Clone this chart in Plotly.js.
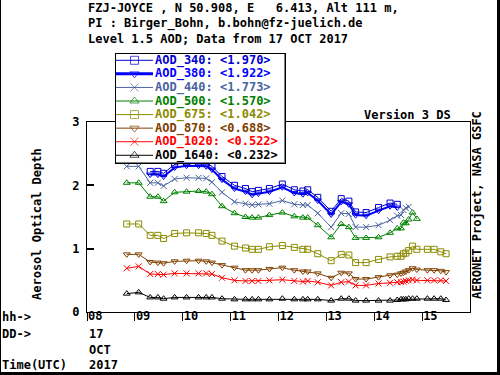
<!DOCTYPE html>
<html><head><meta charset="utf-8">
<script src="https://cdn.plot.ly/plotly-3.0.1.min.js"></script>
<style>html,body{margin:0;padding:0;background:#fff}#chart{width:500px;height:375px}</style>
</head><body><div id="chart"></div>
<script>
// ---- data ----
const hours = [8.83,9.08,9.32,9.48,9.60,9.83,10.08,10.33,10.49,10.61,
  10.82,11.08,11.31,11.45,11.58,11.81,12.08,12.33,12.51,12.61,
  12.82,13.10,13.31,13.47,13.61,13.83,14.09,14.33,14.48,14.56,
  14.61,14.66,14.72,14.80,14.89,15.11,15.25,15.39,15.50];
const aod340 = [null,null,2.22,2.22,2.19,2.33,2.36,2.36,2.35,2.30,
  2.14,2.00,1.95,1.90,1.92,1.95,2.02,1.93,1.91,1.93,
  1.81,1.59,1.79,1.75,1.58,1.57,1.65,1.72,1.70,null,
  null,null,null,null,null,null,null,null,null];
const aod380 = [null,null,2.17,2.17,2.14,2.28,2.31,2.31,2.30,2.25,
  2.09,1.95,1.90,1.85,1.87,1.90,1.97,1.88,1.86,1.88,
  1.76,1.54,1.74,1.70,1.53,1.52,1.60,1.67,1.65,null,
  null,null,null,null,null,null,null,null,null];
const aod440 = [2.30,2.30,2.04,2.04,1.99,2.10,2.12,2.12,2.11,2.05,
  1.89,1.74,1.71,1.69,1.70,1.71,1.76,1.70,1.69,1.69,
  1.56,1.34,1.56,1.55,1.34,1.34,1.37,1.45,1.52,1.53,
  1.61,1.64,1.66,null,null,null,null,null,null];
const aod500 = [2.04,2.04,1.82,1.82,1.75,1.89,1.90,1.91,1.90,1.86,
  1.67,1.56,1.50,1.49,1.49,1.53,1.57,1.51,1.49,1.49,
  1.37,1.18,1.39,1.34,1.17,1.17,1.18,1.25,1.32,1.32,
  1.41,1.40,1.46,1.57,1.47,null,null,null,null];
const aod675 = [1.39,1.39,1.21,1.21,1.16,1.24,1.25,1.25,1.24,1.21,
  1.12,1.04,1.01,0.99,0.99,1.03,1.05,1.02,0.99,0.99,
  0.92,0.81,0.91,0.90,0.78,0.78,0.83,0.87,0.88,0.88,
  0.92,0.93,0.97,1.04,0.99,0.99,0.99,0.95,0.92];
const aod870 = [0.91,0.91,0.79,0.78,0.77,0.80,0.81,0.81,0.80,0.78,
  0.74,0.70,0.66,0.66,0.66,0.68,0.70,0.66,0.64,0.64,
  0.61,0.54,0.62,0.61,0.52,0.52,0.55,0.58,0.59,0.61,
  0.62,0.64,0.66,0.69,0.67,0.66,0.66,0.65,0.63];
const aod1020 = [0.69,0.72,0.60,0.60,0.59,0.61,0.61,0.61,0.61,0.60,
  0.54,0.50,0.49,0.49,0.49,0.50,0.51,0.49,0.48,0.49,
  0.47,0.42,0.47,0.48,0.42,0.42,0.45,0.46,0.47,0.47,
  0.48,0.49,0.50,0.51,0.50,0.50,0.50,0.50,0.49];
const aod1640 = [0.29,0.31,0.23,0.23,0.21,0.23,0.23,0.23,0.23,0.23,
  0.21,0.20,0.20,0.20,0.20,0.20,0.21,0.20,0.20,0.20,
  0.20,0.18,0.21,0.21,0.18,0.18,0.18,0.18,0.19,0.20,
  0.20,0.20,0.21,0.21,0.21,0.21,0.21,0.21,0.19];
const seriesNames = ['AOD_340','AOD_380','AOD_440','AOD_500','AOD_675','AOD_870','AOD_1020','AOD_1640'];
const seriesMeans = ['1.970','1.922','1.773','1.570','1.042','0.688','0.522','0.232'];
const xTickVals = [8,9,10,11,12,13,14,15];
const xTickText = ['08','09','10','11','12','13','14','15'];
const yTickVals = [0,1,2,3];
const yTickText = ['0','1','2','3'];

// ---- styles ----
const seriesData = [aod340,aod380,aod440,aod500,aod675,aod870,aod1020,aod1640];
const colors = ['#0000d0','#0000ff','#4a64a0','#008000','#8c8c00','#804000','#ff0000','#000000'];
const symbols = ['square-open','triangle-down-open','x-thin-open','triangle-up-open','square-open','triangle-down-open','x-thin-open','triangle-up-open'];
const lineW = [1,2,1,1,1,1,1,1];
const FONT = 'DejaVu Sans Mono, monospace';
const W = 500, H = 375;
const px = x => x / W;
const py = y => 1 - y / H;

const traces = [];
for (let i = seriesData.length - 1; i >= 0; i--) {
  traces.push({
    x: hours, y: seriesData[i], type: 'scatter', mode: 'lines+markers',
    line: {color: colors[i], width: lineW[i]},
    marker: {symbol: symbols[i], size: 6, color: colors[i], line: {color: colors[i], width: 1}},
    xaxis: 'x', yaxis: 'y', showlegend: false, hoverinfo: 'skip'
  });
}
// legend samples drawn in a small subplot (pixel-like units)
const LEG = {left: 116, right: 284.5, top: 54, bottom: 162.5, row0: 6.3, rowH: 13.57, textX: 153.3};
seriesNames.forEach((n, i) => {
  const yy = LEG.row0 + LEG.rowH * i;
  traces.push({
    x: [0, 18.5, 37], y: [yy, yy, yy], type: 'scatter', mode: 'lines+markers',
    line: {color: colors[i], width: i === 1 ? 3 : 1},
    marker: {symbol: symbols[i], size: [0, 8, 0], color: colors[i], line: {color: colors[i], width: 1}},
    xaxis: 'x2', yaxis: 'y2', showlegend: false, hoverinfo: 'skip', cliponaxis: false
  });
});

const ann = [];
const txt = (text, x, y, opts) => Object.assign({
  text, x: px(x), y: py(y), xref: 'paper', yref: 'paper', showarrow: false,
  xanchor: 'left', yanchor: 'middle',
  font: {family: FONT, size: 12, color: '#000', weight: 700}
}, opts || {});
ann.push(txt('FZJ-JOYCE , N 50.908, E \u00a0\u00a06.413, Alt 111 m,', 86, 7.5));
ann.push(txt('PI : Birger_Bohn, b.bohn@fz-juelich.de', 86, 23));
ann.push(txt('Level 1.5 AOD; Data from 17 OCT 2017', 86, 38.5));
ann.push(txt('Version 3 DS', 453, 115, {xanchor: 'right'}));
ann.push(txt('AERONET Project, NASA GSFC', 477, 205, {xanchor: 'center', textangle: -90}));
ann.push(txt('Aerosol Optical Depth', 37, 224, {xanchor: 'center', textangle: -90}));
ann.push(txt('hh->', 0, 317));
ann.push(txt('DD->', 0, 333.5));
ann.push(txt('Time(UTC)', 0, 365));
ann.push(txt('17', 87, 333.5));
ann.push(txt('OCT', 87, 350));
ann.push(txt('2017', 87, 365));
seriesNames.forEach((n, i) => {
  ann.push(txt(n + ': &lt;' + seriesMeans[i] + '&gt;', LEG.textX, LEG.top + LEG.row0 + LEG.rowH * i,
    {font: {family: FONT, size: 12, color: colors[i], weight: 700}}));
});

const layout = {
  width: W, height: H, margin: {l: 0, r: 0, t: 0, b: 0},
  paper_bgcolor: '#fff', plot_bgcolor: '#fff',
  font: {family: FONT, size: 12, color: '#000', weight: 700},
  showlegend: false,
  xaxis: {
    domain: [px(87), px(470)], range: [8, 16], anchor: 'y',
    tickvals: xTickVals, ticktext: xTickText, ticks: 'outside', ticklen: 8, tickwidth: 1, tickcolor: '#000',
    ticklabelposition: 'outside right', ticklabelstandoff: -7,
    showline: true, mirror: true, linecolor: '#000', linewidth: 1, showgrid: false, zeroline: false,
    tickfont: {family: FONT, size: 12, color: '#000', weight: 700}
  },
  yaxis: {
    domain: [py(312), py(122)], range: [0, 3], anchor: 'x',
    tickvals: yTickVals, ticktext: yTickText, ticks: 'inside', ticklen: 7, tickwidth: 2, tickcolor: '#000',
    showline: true, mirror: true, linecolor: '#000', linewidth: 1, showgrid: false, zeroline: false,
    ticklabelstandoff: 4,
    tickfont: {family: FONT, size: 12, color: '#000', weight: 700}
  },
  xaxis2: {
    domain: [px(LEG.left), px(LEG.right)], range: [0, LEG.right - LEG.left], anchor: 'y2',
    showline: true, mirror: true, linecolor: '#000', linewidth: 1, showgrid: false, zeroline: false,
    showticklabels: false, ticks: '', fixedrange: true
  },
  yaxis2: {
    domain: [py(LEG.bottom), py(LEG.top)], range: [LEG.bottom - LEG.top, 0], anchor: 'x2',
    showline: true, mirror: true, linecolor: '#000', linewidth: 1, showgrid: false, zeroline: false,
    showticklabels: false, ticks: '', fixedrange: true
  },
  shapes: [
    {type: 'rect', xref: 'x2 domain', yref: 'y2 domain', x0: 0, x1: 1, y0: 0, y1: 1,
     fillcolor: '#fff', line: {color: '#000', width: 1}, layer: 'below'},
    {type: 'line', xref: 'paper', yref: 'paper', x0: px(0.5), x1: px(0.5), y0: 0, y1: 1, line: {color: '#000', width: 1}},
    {type: 'line', xref: 'paper', yref: 'paper', x0: px(498.5), x1: px(498.5), y0: 0, y1: 1, line: {color: '#000', width: 3}},
    {type: 'line', xref: 'paper', yref: 'paper', x0: 0, x1: 1, y0: py(373.5), y1: py(373.5), line: {color: '#000', width: 3}}
  ],
  annotations: ann
};
Plotly.newPlot('chart', traces, layout, {staticPlot: true, displayModeBar: false});
</script></body></html>
